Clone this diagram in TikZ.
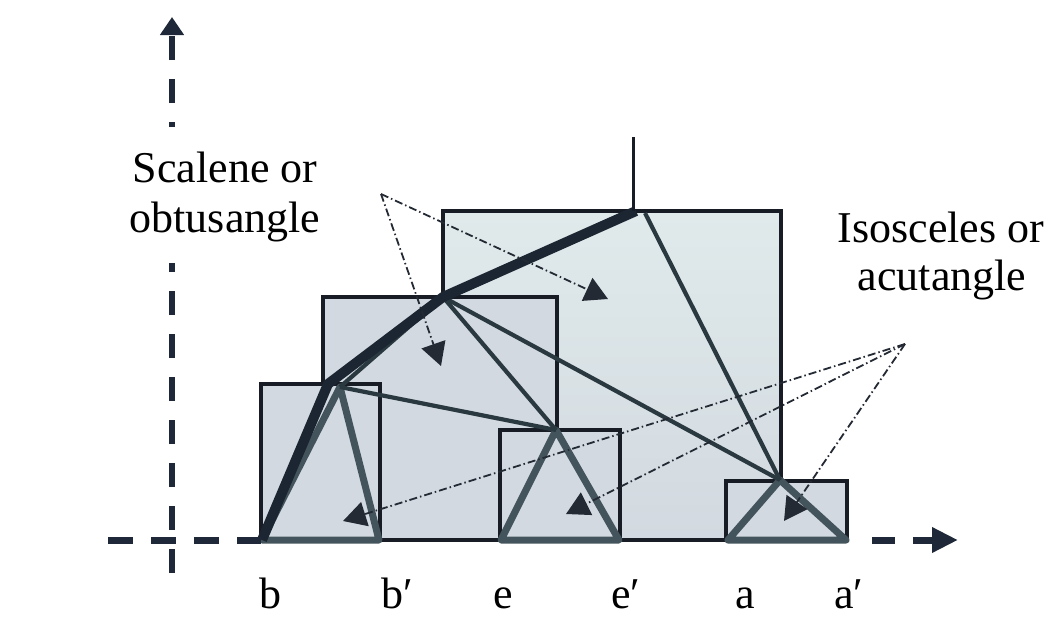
\documentclass[tikz,border=0pt]{standalone}
\usepackage{fontspec}
\setmainfont{Liberation Serif}
\usetikzlibrary{arrows.meta}
\definecolor{rectfill}{RGB}{210,217,224}
\definecolor{rectfilltop}{RGB}{224,234,235}
\definecolor{boxcol}{RGB}{24,28,36}
\definecolor{tricol}{RGB}{68,84,92}
\definecolor{thickcol}{RGB}{28,38,50}
\definecolor{linkcol}{RGB}{42,56,64}
\definecolor{ptrcol}{RGB}{36,42,52}
\definecolor{axiscol}{RGB}{30,40,56}
\tikzset{
  vaxis/.style={line width=6pt, color=axiscol, dash pattern=on 24pt off 19pt},
  haxis/.style={line width=7pt, color=axiscol, dash pattern=on 25pt off 18pt},
  boxrect/.style={draw=boxcol, line width=3.5pt, fill=rectfill},
  triedge/.style={draw=tricol, line width=7pt, line join=round},
  thickpath/.style={draw=thickcol, line width=10pt, line join=round},
  linkline/.style={draw=linkcol, line width=4.2pt},
  pointer/.style={draw=ptrcol, line width=1.8pt, dash pattern=on 8pt off 3pt on 1.5pt off 3pt, -{Triangle[length=23pt,width=25pt]}},
  lbl/.style={font=\fontsize{44}{50}\selectfont, text=black, inner sep=0pt},
}
\begin{document}
\begin{tikzpicture}[x=1pt,y=-1pt]
\useasboundingbox (0,0) rectangle (1055,616);
% points
\coordinate (B0) at (262,540);
\coordinate (B1) at (379,540);
\coordinate (BA) at (340,387);
\coordinate (E0) at (501,540);
\coordinate (E1) at (619,540);
\coordinate (EA) at (556,430);
\coordinate (A0) at (728,540);
\coordinate (A1) at (846,540);
\coordinate (AA) at (780,480);
\coordinate (K1) at (328,384);
\coordinate (P1) at (443,297);
\coordinate (P2) at (636,211);
\coordinate (P2r) at (645,213);
\coordinate (T) at (633,137);
\coordinate (Tb) at (633,211);
\coordinate (L) at (381,194);
\coordinate (R) at (905,344);
\coordinate (Lp1) at (608,299);
\coordinate (Lp2) at (441,366);
\coordinate (Rp1) at (343,521);
\coordinate (Rp2) at (566,514);
\coordinate (Rp3) at (784,521);
% axes ends
\coordinate (VA0) at (172,573);
\coordinate (VA1) at (172,263);
\coordinate (VA2) at (172,127);
\coordinate (VA3) at (172,17);
\coordinate (HA0) at (108,540);
\coordinate (HA1) at (261,540);
\coordinate (HA2) at (872,540);
\coordinate (HA3) at (958,540);
% rectangles
\draw[boxrect, top color=rectfilltop, bottom color=rectfill] (443,211) rectangle (781,540);
\draw[boxrect] (323,297) rectangle (557,540);
\draw[boxrect] (261,384) rectangle (380,540);
\draw[boxrect] (500,430) rectangle (620,540);
\draw[boxrect] (726,481) rectangle (847,540);
% triangles
\draw[triedge] (B0) -- (BA) -- (B1) -- cycle;
\draw[triedge] (E0) -- (EA) -- (E1) -- cycle;
\draw[triedge] (A0) -- (AA) -- (A1) -- cycle;
% links
\draw[linkline] (BA) -- (P1);
\draw[linkline] (BA) -- (EA);
\draw[linkline] (P1) -- (EA);
\draw[linkline] (P1) -- (AA);
\draw[linkline] (P2r) -- (AA);
\draw[thickpath] (B0) -- (K1) -- (P1) -- (P2);
\draw[draw=boxcol, line width=3pt] (T) -- (Tb);
% pointers
\draw[pointer] (L) -- (Lp1);
\draw[pointer] (L) -- (Lp2);
\draw[pointer] (R) -- (Rp1);
\draw[pointer] (R) -- (Rp2);
\draw[pointer] (R) -- (Rp3);
% axes
\draw[vaxis] (VA0) -- (VA1);
\draw[vaxis, dash phase=19pt, -{Triangle[length=18pt,width=23pt]}] (VA2) -- (VA3);
\draw[haxis] (HA0) -- (HA1);
\draw[haxis, dash pattern=on 23pt off 18pt, -{Triangle[length=26pt,width=24pt]}] (HA2) -- (HA3);
% labels
\node[lbl, anchor=base] (sc1) at (225,182) {Scalene or};
\node[lbl, anchor=base] (sc2) at (225,232) {obtusangle};
\node[lbl, anchor=base] (is1) at (941,242) {Isosceles or};
\node[lbl, anchor=base] (is2) at (942,290) {acutangle};
\node[lbl, anchor=base west] (lb) at (259,608) {b};
\node[lbl, anchor=base west] (lbp) at (381,608) {b′};
\node[lbl, anchor=base west] (le) at (493,608) {e};
\node[lbl, anchor=base west] (lep) at (611,608) {e′};
\node[lbl, anchor=base west] (la) at (735,608) {a};
\node[lbl, anchor=base west] (lap) at (834,608) {a′};
\end{tikzpicture}
\end{document}
